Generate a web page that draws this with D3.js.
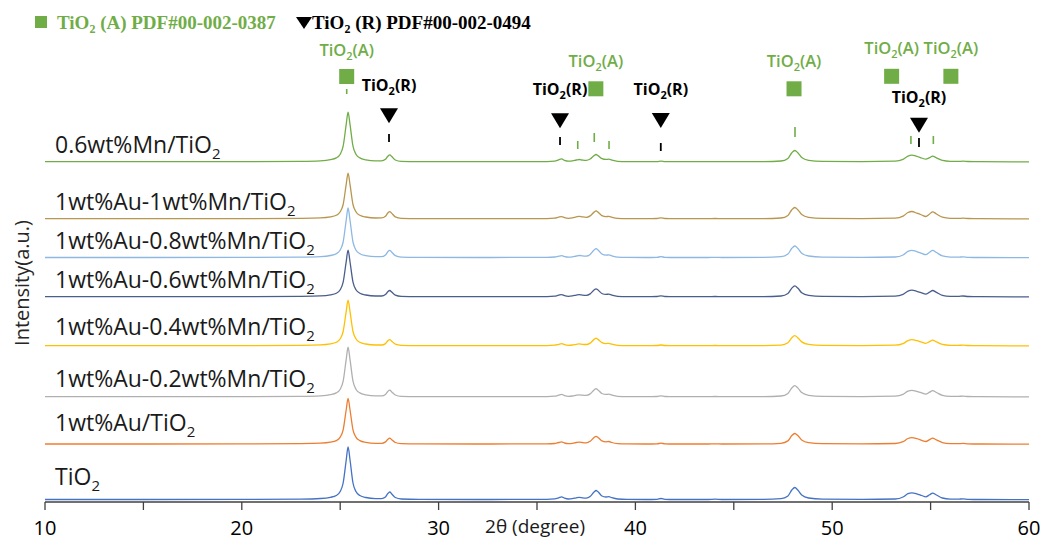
<!DOCTYPE html>
<html><head><meta charset="utf-8">
<script src="https://cdn.jsdelivr.net/npm/d3@7"></script>
<style>html,body{margin:0;padding:0;background:#fff;}svg{display:block;}</style>
</head><body>
<svg id="chart" width="1046" height="542"></svg>
<script>
// ---- data ----
const twoTheta = [
  10, 15, 20, 23,
  24, 24.5, 24.8, 25.0, 25.15, 25.3, 25.4, 25.5, 25.65, 25.8, 26.0, 26.3, 26.8,
  27.1, 27.3, 27.42, 27.52, 27.62, 27.8, 28.1, 29, 32,
  35.5, 35.9, 36.1, 36.25, 36.4, 36.6, 36.8, 37.0, 37.15, 37.3, 37.5,
  37.7, 37.9, 38.0, 38.1, 38.3, 38.5, 38.65, 38.8, 39.1, 39.6,
  40.5, 41.1, 41.3, 41.5, 42.0, 43.7, 44.05, 44.4, 46.5,
  47.4, 47.75, 47.95, 48.1, 48.25, 48.45, 48.8, 49.5, 51.5,
  53.2, 53.6, 53.85, 54.05, 54.3, 54.55, 54.75, 54.95, 55.1, 55.3, 55.6,
  56.0, 56.4, 56.65, 56.9, 57.5, 60
];
const seriesNames = [
  "0.6wt%Mn/TiO", "1wt%Au-1wt%Mn/TiO", "1wt%Au-0.8wt%Mn/TiO", "1wt%Au-0.6wt%Mn/TiO",
  "1wt%Au-0.4wt%Mn/TiO", "1wt%Au-0.2wt%Mn/TiO", "1wt%Au/TiO", "TiO"
];
const I_Mn06 = [
  0.5, 0.5, 0.6, 0.9,
  1.4, 2.5, 4.3, 8, 16, 37, 50, 37.5, 16, 8, 4.3, 2.4, 1.3,
  1.3, 2.9, 6.0, 7.4, 5.6, 2.2, 0.9, 0.6, 0.5,
  0.6, 1.1, 2.4, 3.3, 1.8, 1.0, 1.3, 2.2, 2.7, 2.2, 1.8,
  3.2, 6.6, 7.7, 6.6, 3.6, 2.8, 3.0, 2.1, 0.9, 0.6,
  0.5, 0.6, 1.0, 0.6, 0.5, 0.5, 0.6, 0.5, 0.6,
  1.2, 3.8, 9.5, 11.7, 9.5, 4.7, 1.9, 0.8, 0.6,
  1.0, 2.8, 6.1, 7.0, 5.8, 4.2, 3.0, 4.5, 6.0, 4.4, 1.8,
  0.9, 0.8, 1.0, 0.7, 0.5, 0.4
];
const I_Au1Mn10 = [
  0.5, 0.5, 0.6, 0.9,
  1.3, 2.3, 3.9, 7.4, 14.7, 34, 46, 34.5, 14.7, 7.4, 3.9, 2.2, 1.2,
  1.3, 3, 6.2, 7.6, 5.8, 2.3, 0.9, 0.6, 0.5,
  0.6, 1.1, 2.1, 2.6, 1.5, 0.9, 1.3, 2.3, 2.8, 2.3, 1.9,
  3.3, 7.1, 8.3, 7.1, 3.6, 2.6, 2.8, 2.0, 0.9, 0.6,
  0.5, 0.7, 1.3, 0.7, 0.5, 0.5, 0.7, 0.5, 0.6,
  1.2, 3.8, 9.5, 11.7, 9.5, 4.7, 1.9, 0.8, 0.6,
  1.0, 3.0, 6.7, 7.7, 6.0, 4.2, 2.7, 5.2, 7.3, 5.2, 2.0,
  0.9, 0.8, 1.0, 0.7, 0.5, 0.4
];
const I_Au1Mn08 = [
  0.5, 0.5, 0.6, 0.9,
  1.4, 2.5, 4.3, 8, 16, 37, 50, 37.5, 16, 8, 4.3, 2.4, 1.3,
  1.3, 3, 6.3, 7.7, 5.8, 2.3, 0.9, 0.6, 0.5,
  0.6, 1.0, 1.8, 2.3, 1.4, 0.9, 1.2, 2.0, 2.5, 2.1, 1.9,
  3.6, 7.9, 9.3, 8.0, 4.0, 2.9, 3.1, 2.2, 0.9, 0.6,
  0.5, 0.7, 1.3, 0.7, 0.5, 0.5, 0.7, 0.5, 0.6,
  1.3, 4, 9.7, 12, 9.7, 4.8, 2, 0.8, 0.6,
  1.0, 3.0, 6.7, 7.7, 6.4, 4.6, 3.3, 5.8, 7.6, 5.5, 2.1,
  0.9, 0.8, 1.2, 0.7, 0.5, 0.4
];
const I_Au1Mn06 = [
  0.5, 0.5, 0.6, 0.9,
  1.3, 2.4, 4, 7.5, 15, 34.8, 47, 35.2, 15, 7.5, 4, 2.2, 1.2,
  1.2, 2.7, 5.5, 6.7, 5.1, 2.1, 0.9, 0.6, 0.5,
  0.6, 1.0, 2.0, 2.6, 1.5, 0.9, 1.3, 2.1, 2.5, 2.1, 1.8,
  3.3, 7.2, 8.4, 7.2, 3.7, 2.8, 3.1, 2.1, 0.9, 0.6,
  0.5, 0.7, 1.3, 0.7, 0.5, 0.5, 0.7, 0.5, 0.6,
  1.2, 3.7, 9.1, 11.3, 9.1, 4.5, 1.9, 0.8, 0.6,
  1.0, 2.8, 6.1, 7.0, 5.9, 4.3, 3.0, 5.1, 6.7, 4.8, 1.9,
  0.9, 0.8, 1.2, 0.7, 0.5, 0.4
];
const I_Au1Mn04 = [
  0.5, 0.5, 0.6, 0.9,
  1.3, 2.3, 3.9, 7.4, 14.7, 34, 46, 34.5, 14.7, 7.4, 3.9, 2.2, 1.2,
  1.2, 2.6, 5.4, 6.5, 5.0, 2.0, 0.9, 0.6, 0.5,
  0.6, 1.0, 1.9, 2.6, 1.5, 0.9, 1.2, 1.9, 2.3, 1.9, 1.7,
  3.1, 6.8, 8, 6.8, 3.5, 2.6, 2.9, 2.0, 0.9, 0.6,
  0.5, 0.7, 1.2, 0.7, 0.5, 0.5, 0.7, 0.5, 0.6,
  1.1, 3.5, 8.5, 10.5, 8.5, 4.3, 1.8, 0.8, 0.6,
  1.0, 2.6, 5.6, 6.5, 5.5, 4.0, 2.9, 4.6, 6.0, 4.3, 1.8,
  0.9, 0.8, 1.1, 0.7, 0.5, 0.4
];
const I_Au1Mn02 = [
  0.5, 0.5, 0.6, 0.9,
  1.4, 2.5, 4.3, 8, 16, 37, 50, 37.5, 16, 8, 4.3, 2.4, 1.3,
  1.3, 2.8, 5.8, 7, 5.3, 2.2, 0.9, 0.6, 0.5,
  0.6, 1.0, 2.0, 2.8, 1.6, 0.9, 1.2, 2.0, 2.4, 2.0, 1.8,
  3.3, 7.3, 8.6, 7.3, 3.7, 2.8, 3.0, 2.1, 0.9, 0.6,
  0.5, 0.7, 1.3, 0.7, 0.5, 0.5, 0.7, 0.5, 0.6,
  1.2, 3.8, 9.3, 11.5, 9.3, 4.6, 1.9, 0.8, 0.6,
  1.0, 2.8, 6.0, 6.9, 5.9, 4.3, 3.0, 5.0, 6.5, 4.7, 1.9,
  0.9, 0.8, 1.1, 0.7, 0.5, 0.4
];
const I_Au1 = [
  0.5, 0.5, 0.6, 0.9,
  1.3, 2.3, 3.9, 7.4, 14.7, 34, 46, 34.5, 14.7, 7.4, 3.9, 2.2, 1.2,
  1.2, 2.6, 5.2, 6.3, 4.8, 2.0, 0.9, 0.6, 0.5,
  0.6, 1.0, 2.0, 2.6, 1.5, 0.9, 1.2, 2.0, 2.4, 2.0, 1.7,
  3.2, 7, 8.2, 7, 3.6, 2.7, 3.0, 2.0, 0.9, 0.6,
  0.5, 0.7, 1.3, 0.7, 0.5, 0.5, 0.7, 0.5, 0.6,
  1.2, 3.6, 9, 11, 9, 4.5, 1.8, 0.8, 0.6,
  1.0, 2.8, 6.0, 6.8, 5.8, 4.2, 3.0, 4.8, 6.3, 4.6, 1.9,
  0.9, 0.8, 1.1, 0.7, 0.5, 0.4
];
const I_TiO2 = [
  0.5, 0.5, 0.6, 0.9,
  1.5, 2.7, 4.5, 8.5, 17, 39, 53, 40, 17, 8.5, 4.5, 2.5, 1.4,
  1.4, 3, 6.5, 8, 6, 2.5, 1.0, 0.6, 0.5,
  0.6, 1.1, 2.2, 3.2, 1.8, 1.0, 1.3, 2.2, 2.6, 2.2, 1.9,
  3.5, 8, 9.5, 8.2, 4, 3, 3.3, 2.3, 1.0, 0.6,
  0.5, 0.7, 1.5, 0.7, 0.5, 0.5, 0.8, 0.5, 0.6,
  1.3, 4, 10, 12.5, 10, 5, 2, 0.8, 0.6,
  1.0, 3, 6.3, 7.2, 6.2, 4.5, 3.2, 5.2, 6.8, 5, 2,
  0.9, 0.8, 1.2, 0.7, 0.5, 0.4
];
const intensities = [I_Mn06, I_Au1Mn10, I_Au1Mn08, I_Au1Mn06, I_Au1Mn04, I_Au1Mn02, I_Au1, I_TiO2];
const offsets = [339.8, 282.8, 244, 204.8, 155.8, 104.8, 57.5, 2];   // vertical stacking offset (a.u.)
const colors = ["#70AD47", "#B8964E", "#8DB8E3", "#4A5D8C", "#FFC000", "#B0B0B0", "#ED7D31", "#4472C4"];

const xTicks = [10, 15, 20, 25, 30, 35, 40, 45, 50, 55, 60];
const xTickLabels = ["10", "", "20", "", "30", "", "40", "", "50", "", "60"];

// reference-pattern marks (2θ positions)
const anataseLines = [25.33, 37.07, 37.91, 38.66, 48.11, 54.0, 55.14];
const rutileLines = [27.48, 36.17, 41.29, 54.41];
const anataseMarkers = [25.33, 37.99, 48.06, 53.02, 56.03];

// ---- layout ----
const labelLevels = [349, 292, 253, 214, 167, 115, 71, 17];
const anataseLineY = [[408, 413], [353, 361], [360, 369], [353, 361], [365, 375], [358, 366], [358, 366]];
const rutileLineY = [[360, 368], [357, 365], [351, 359], [355, 364]];
const anataseMarkerY = [425.5, 413.2, 413.2, 425.7, 425.7];
const anataseLabelY = [446, 435, 435, 448, 448];
const rutileTriTop = [393.7, 388.7, 389, 384.3];
const rutileLabelY = [411, 407, 407, 399];

const svg = d3.select("#chart");
const x = d3.scaleLinear().domain([10, 60]).range([45, 1029]);
const y = d3.scaleLinear().domain([0, 462]).range([502, 40]);
const FONT = "'Open Sans', 'Noto Sans', sans-serif";

function chem(sel, pre, sub, post, subSize, shift) {
  sel.append("tspan").text(pre);
  sel.append("tspan").attr("font-size", subSize).attr("dy", shift).text(sub);
  if (post) sel.append("tspan").attr("dy", -shift).text(post);
}

// curves
const line = d3.line()
  .x(d => x(d[0]))
  .y(d => y(d[1]))
  .curve(d3.curveMonotoneX);

intensities.forEach((arr, i) => {
  const pts = twoTheta.map((t, j) => [t, arr[j] + offsets[i]]);
  svg.append("path")
    .attr("d", line(pts))
    .attr("fill", "none")
    .attr("stroke", colors[i])
    .attr("stroke-width", 1.3)
    .attr("stroke-linejoin", "round");
});

// series labels
seriesNames.forEach((n, i) => {
  const t = svg.append("text")
    .attr("x", 55).attr("y", y(labelLevels[i]))
    .attr("font-family", FONT).attr("font-size", 23).attr("fill", "#1a1a1a");
  chem(t, n, "2", "", 15, 6);
});

// x axis
const axisG = svg.append("g").attr("transform", `translate(0,${y(0)})`);
axisG.append("line").attr("x1", x(10)).attr("x2", x(60)).attr("stroke", "#404040").attr("stroke-width", 1.3);
axisG.selectAll("line.tick").data(xTicks).enter().append("line")
  .attr("class", "tick")
  .attr("x1", d => x(d)).attr("x2", d => x(d))
  .attr("y1", 0).attr("y2", 8)
  .attr("stroke", "#404040").attr("stroke-width", 1.3);
axisG.selectAll("text.tl").data(xTicks).enter().append("text")
  .attr("class", "tl")
  .attr("x", d => x(d)).attr("y", 33)
  .attr("text-anchor", "middle")
  .attr("font-family", FONT).attr("font-size", 20).attr("fill", "#000")
  .text((d, i) => xTickLabels[i]);

svg.append("text")
  .attr("x", x(34.9)).attr("y", 533)
  .attr("text-anchor", "middle")
  .attr("font-family", FONT).attr("font-size", 19).attr("fill", "#1a1a1a")
  .text("2θ (degree)");

svg.append("text")
  .attr("transform", "translate(29,283) rotate(-90)")
  .attr("text-anchor", "middle")
  .attr("font-family", FONT).attr("font-size", 20).attr("fill", "#262626")
  .text("Intensity(a.u.)");

// reference lines
anataseLines.forEach((p, i) => {
  svg.append("line")
    .attr("x1", x(p)).attr("x2", x(p))
    .attr("y1", y(anataseLineY[i][0])).attr("y2", y(anataseLineY[i][1]))
    .attr("stroke", "#70AD47").attr("stroke-width", 1.6);
});
rutileLines.forEach((p, i) => {
  svg.append("line")
    .attr("x1", x(p)).attr("x2", x(p))
    .attr("y1", y(rutileLineY[i][0])).attr("y2", y(rutileLineY[i][1]))
    .attr("stroke", "#000").attr("stroke-width", 1.8);
});

// anatase markers & labels
anataseMarkers.forEach((p, i) => {
  svg.append("rect")
    .attr("x", x(p) - 7.5).attr("y", y(anataseMarkerY[i]) - 7.5)
    .attr("width", 15).attr("height", 15)
    .attr("fill", "#70AD47");
  const t = svg.append("text")
    .attr("x", x(p)).attr("y", y(anataseLabelY[i]))
    .attr("text-anchor", "middle")
    .attr("font-family", FONT).attr("font-size", 16.5).attr("font-weight", 600)
    .attr("fill", "#70AD47");
  chem(t, "TiO", "2", "(A)", 11, 4);
});

// rutile markers & labels
rutileLines.forEach((p, i) => {
  const cx = x(p), top = y(rutileTriTop[i]);
  svg.append("path")
    .attr("d", `M${cx - 9},${top} L${cx + 9},${top} L${cx},${top + 15} Z`)
    .attr("fill", "#000");
  const t = svg.append("text")
    .attr("x", cx).attr("y", y(rutileLabelY[i]))
    .attr("text-anchor", "middle")
    .attr("font-family", FONT).attr("font-size", 16).attr("font-weight", 700)
    .attr("fill", "#000");
  chem(t, "TiO", "2", "(R)", 11, 4);
});

// legend
const SERIF = "'Liberation Serif', 'DejaVu Serif', serif";
svg.append("rect").attr("x", 35).attr("y", 16).attr("width", 12).attr("height", 12).attr("fill", "#70AD47");
const lg1 = svg.append("text").attr("x", 57).attr("y", 28.5)
  .attr("font-family", SERIF).attr("font-size", 19).attr("font-weight", 700).attr("fill", "#70AD47");
chem(lg1, "TiO", "2", " (A) PDF#00-002-0387", 12, 4);
svg.append("path").attr("d", "M296,17 L312,17 L304,29 Z").attr("fill", "#000");
const lg2 = svg.append("text").attr("x", 312).attr("y", 28.5)
  .attr("font-family", SERIF).attr("font-size", 19).attr("font-weight", 700).attr("fill", "#000");
chem(lg2, "TiO", "2", " (R) PDF#00-002-0494", 12, 4);
</script>
</body></html>
